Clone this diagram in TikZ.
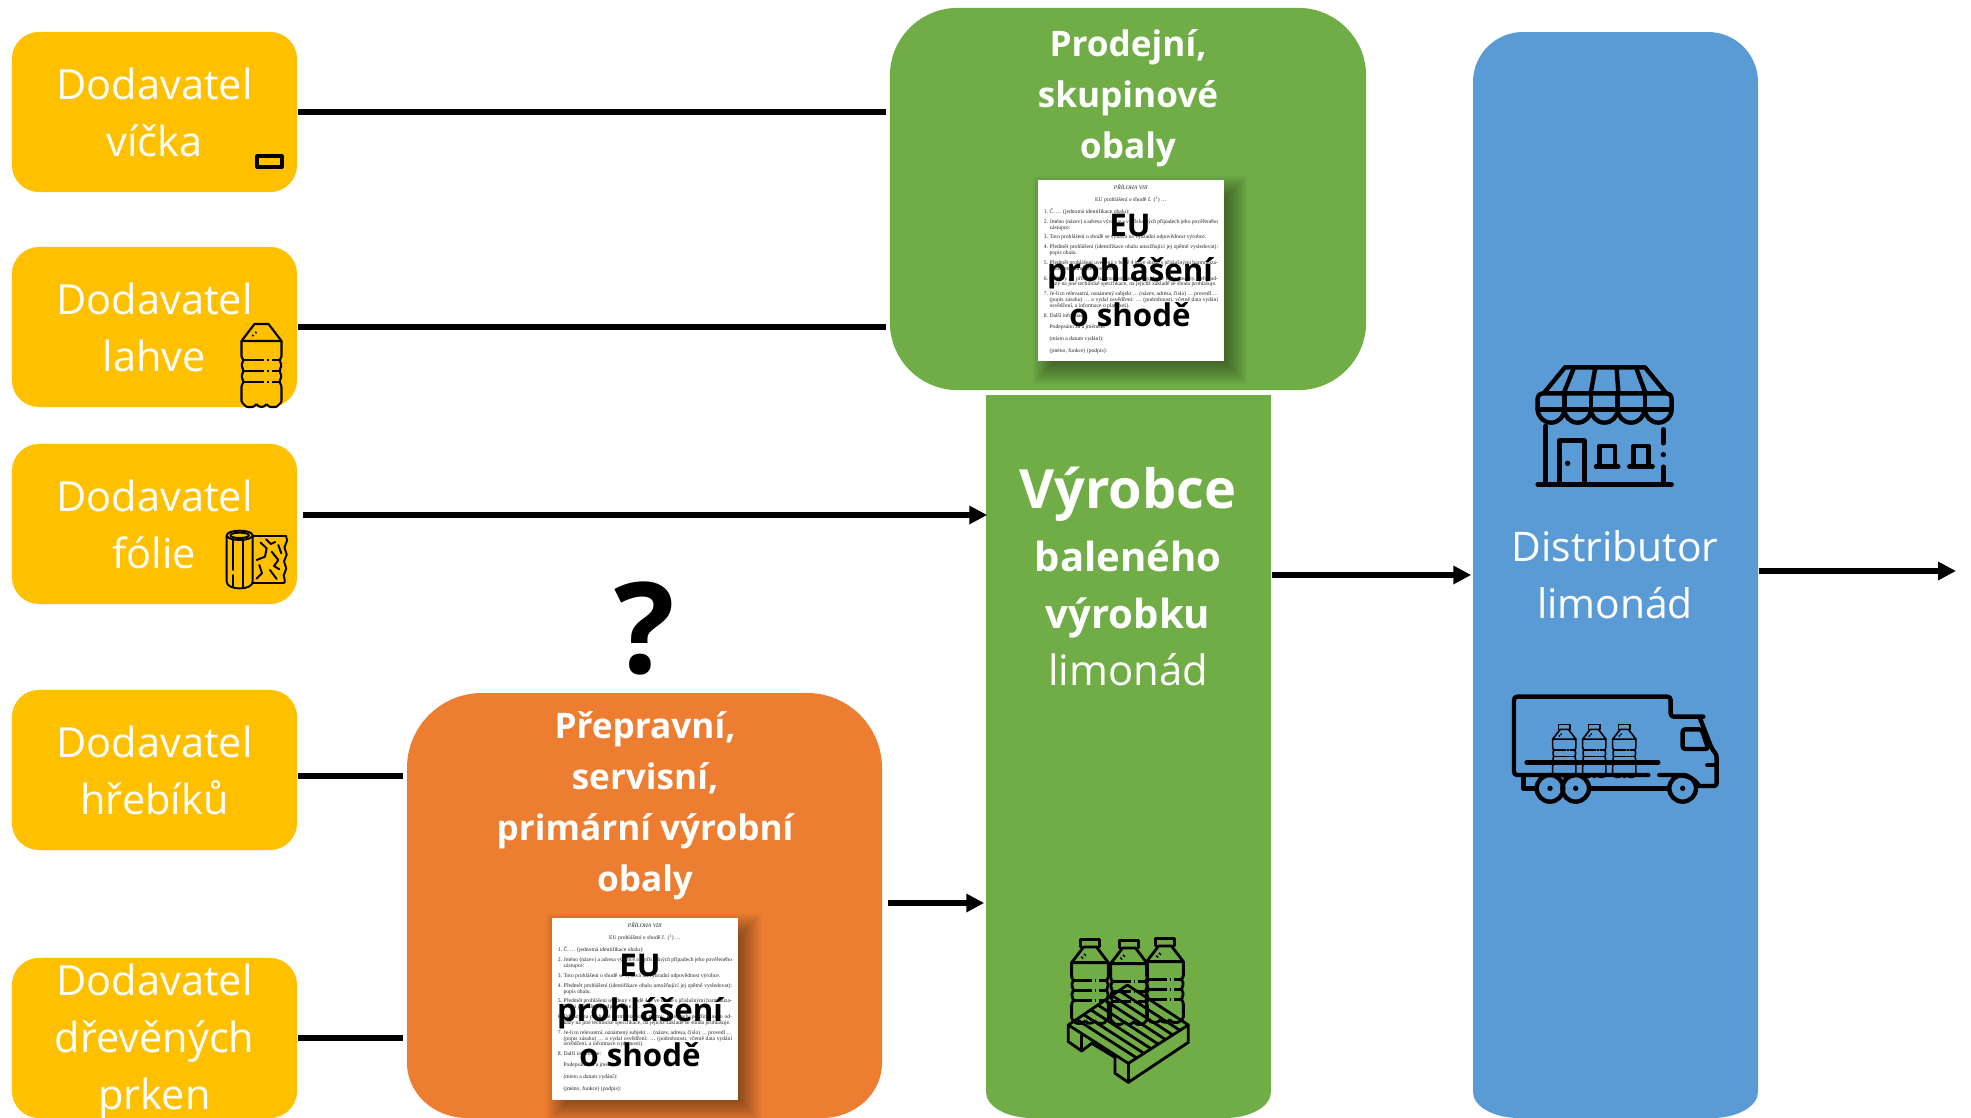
\documentclass[tikz,border=0pt]{standalone}
\usepackage{fontspec}
\setmainfont{Open Sans}
\newfontfamily\dokfont{Liberation Serif}
\usetikzlibrary{arrows.meta,calc,decorations.pathmorphing}

\definecolor{zluta}{HTML}{FFC000}
\definecolor{zelena}{HTML}{70AD47}
\definecolor{modra}{HTML}{5B9BD5}
\definecolor{oranzova}{HTML}{ED7D31}

\newcommand{\bod}[2]{\par\vspace{5.85pt}\noindent\hangindent=8pt\hangafter=1\makebox[8pt][l]{#1}#2\par}
% drobny text na listu
\newcommand{\prilohatext}{\scalebox{.2}{\parbox[t]{8.7cm}{\dokfont\fontsize{8}{8.2}\selectfont\tolerance=5000\parindent=0pt
  \centerline{\textit{PŘÍLOHA VIII}}\vspace{9pt}
  \centerline{EU prohlášení o shodě č. (\textsuperscript{1}) …}\vspace{2pt}
  \bod{1.}{Č. … (jednotná identifikace obalu):}
  \bod{2.}{Jméno (název) a adresa výrobce a v příslušných případech jeho pověřeného zástupce:}
  \bod{3.}{Toto prohlášení o shodě se vydává na výhradní odpovědnost výrobce.}
  \bod{4.}{Předmět prohlášení (identifikace obalu umožňující jej zpětně vysledovat): popis obalu.}
  \bod{5.}{Předmět prohlášení uvedený v bodě 4 je ve shodě s příslušnými harmonizačními právními předpisy Unie: …}
  \bod{6.}{Odkazy na příslušné harmonizované normy, které byly použity, nebo odkazy na jiné technické specifikace, na jejichž základě se shoda prohlašuje.}
  \bod{7.}{Je-li to relevantní, oznámený subjekt … (název, adresa, číslo) … provedl … (popis zásahu) … a vydal osvědčení: … (podrobnosti, včetně data vydání osvědčení, a informace o platnosti).}
  \bod{8.}{Další informace:}
  \vspace{2pt}\bod{}{Podepsáno za a jménem:}
  \vspace{3pt}\bod{}{(místo a datum vydání):}
  \vspace{3pt}\bod{}{(jméno, funkce) (podpis):}}}}

% list s prohlasenim: #1 jmeno, #2 stred x, #3 stred y, #4 #5 stred nadpisu
\newcommand{\dokument}[5]{
  \foreach \s in {0,...,13}
    \fill[black,opacity=.04] ({#2-93+9-14+2*\s},{#3-90+9-14+2*\s}) rectangle ({#2+93+9+14-2*\s},{#3+90+9+14-2*\s});
  \node[list] (#1) at (#2,#3) {};
  \node[drobny,anchor=north] (#1text) at (#2,#3-87) {\prilohatext};
  \node[nadpis] (#1nadpis) at (#4,#5) {EU\\prohlášení\\o shodě};
}

\tikzset{
  lahvicka/.pic={
    \draw (-7,0) -- (7,0) -- (20,17) -- (-20,17) -- cycle;
    \foreach \m in {-1,1}
      \draw[xscale=\m,rounded corners=.3pt] (20,17) -- (20,33) -- (18,36) -- (20,41) -- (18,47) -- (20,52) -- (18,58) -- (20,62) -- (20,78) -- (15,83) -- (8,83) -- (5,80);
    \draw (-5,80) .. controls (-3,84) and (3,84) .. (5,80);
    \foreach \y in {36,47,58}
      \draw (-18,\y) -- (2,\y) (5,\y) -- (7,\y) (10,\y) -- (18,\y);
    \draw (-6,9) -- (-5,8) (-9,12) -- (-8,11);
  },
  lahev/.pic={
    \pic[transform shape] {lahvicka};
    \draw (-10,-8) rectangle (10,0);
  }
}

\begin{document}
\begin{tikzpicture}[x=0.01cm,y=-0.01cm,line join=round]
    \tikzstyle{every node}+=[inner sep=0pt]
    \tikzstyle{dodavatel}=[fill=zluta,rounded corners=7.7pt,minimum width=2.85cm,minimum height=1.6cm,text=white,align=center,font=\fontsize{11.8}{16.2}\selectfont]
    \tikzstyle{skryty}=[minimum width=2.85cm]
    \tikzstyle{bily}=[text=white,align=center]
    \tikzstyle{obaltext}=[bily,font=\bfseries\fontsize{10}{14.5}\selectfont]
    \tikzstyle{list}=[fill=white,minimum width=1.86cm,minimum height=1.81cm]
    \tikzstyle{drobny}=[text=black!85]
    \tikzstyle{nadpis}=[align=center,text=black,font=\bfseries\fontsize{8.9}{12.8}\selectfont]
    \tikzstyle{linka}=[line width=1.7pt,black,shorten >=.03cm]
    \tikzstyle{sipka}=[linka,shorten >=.01cm,-{Triangle[length=5.1pt,width=5pt]}]
    \tikzstyle{ikona}=[line width=1.25pt,line cap=round,black]
    \tikzstyle{tenka}=[line width=.45pt,line cap=round,black]

    \useasboundingbox (0,0) rectangle (1971,1118);
    \clip (0,0) rectangle (1971,1118);

    % dodavatele
    \node[dodavatel] (vicka) at (154.5,112) {Dodavatel\\víčka};
    \node[dodavatel] (lahve) at (154.5,327) {Dodavatel\\lahve};
    \node[dodavatel] (folie) at (154.5,524) {Dodavatel\\fólie};
    \node[dodavatel] (hrebiky) at (154.5,770) {Dodavatel\\hřebíků};
    \node[dodavatel] (prkna) at (154.5,1038) {};
    \node[bily,font=\fontsize{11.8}{16.2}\selectfont] (prknatext) at (154.5,1042) {Dodavatel\\dřevěných\\prken};

    % obaly
    \node[fill=zelena,rounded corners=19.3pt,minimum width=4.76cm,minimum height=3.82cm] (prodejni) at (1128,199) {};
    \node[skryty,minimum width=4.75cm,minimum height=4.25cm] (prepravni) at (644.5,905.5) {};
    \fill[oranzova] (407,768) arc[start angle=180,end angle=270,radius=75] -- (807,693) arc[start angle=270,end angle=360,radius=75] -- (882,1063) arc[start angle=0,end angle=90,x radius=60,y radius=55] -- (467,1118) arc[start angle=90,end angle=180,x radius=60,y radius=55] -- cycle;

    % vyrobce a distributor
    \node[skryty,minimum height=7.23cm] (vyrobce) at (1128.5,756.5) {};
    \fill[zelena] (986,395) -- (1271,395) -- (1271,1092) arc[start angle=0,end angle=90,x radius=46,y radius=26] -- (1032,1118) arc[start angle=90,end angle=180,x radius=46,y radius=26] -- cycle;
    \node[skryty,minimum height=10.86cm] (distributor) at (1615.5,575) {};
    \fill[modra] (1473,82) arc[start angle=180,end angle=270,radius=50] -- (1708,32) arc[start angle=270,end angle=360,radius=50] -- (1758,1092) arc[start angle=0,end angle=90,x radius=46,y radius=26] -- (1519,1118) arc[start angle=90,end angle=180,x radius=46,y radius=26] -- cycle;

    % spojnice
    \draw[linka] (vicka.east) -- (prodejni.west |- vicka.east);
    \draw[linka] (lahve.east) -- (prodejni.west |- lahve.east);
    \draw[sipka,shorten <=.05cm,shorten >=-.02cm] (folie.east |- 0,515) -- (vyrobce.west |- 0,515);
    \draw[linka] (hrebiky.east |- 0,776) -- (prepravni.west |- 0,776);
    \draw[linka] (prkna.east) -- (prepravni.west |- prkna.east);
    \draw[sipka,shorten <=.05cm] (prepravni.east |- 0,903) -- (vyrobce.west |- 0,903);
    \draw[sipka] (vyrobce.east |- 0,575) -- (distributor.west |- 0,575);
    \coordinate (konec) at (1956,571);
    \draw[sipka,shorten >=0cm] (distributor.east |- konec) -- (konec);

    % popisky
    \node[obaltext] (prodejnitext) at (1128,98.5) {Prodejní,\\skupinové\\obaly};
    \node[obaltext] (prepravnitext) at (645,806) {Přepravní,\\servisní,\\primární výrobní\\obaly};
    \node[bily,font=\bfseries\fontsize{15.4}{20}\selectfont] (vyrobcetext) at (1128,494) {Výrobce};
    \node[bily,font=\fontsize{11.4}{16.2}\selectfont] (balenytext) at (1128,613) {\textbf{baleného}\\\textbf{výrobku}\\\fontsize{11.9}{16.2}\selectfont limonád};
    \node[bily,font=\fontsize{11.6}{16.2}\selectfont] (distributortext) at (1615,575) {Distributor\\limonád};
    \node[font=\bfseries\fontsize{36}{36}\selectfont] (otaznik) at (645,628) {?};

    % listy
    \dokument{prohlaseni}{1131}{270.5}{1130}{270}
    \dokument{prohlasenidva}{645}{1009}{640}{1010}

    % vicko
    \draw[line width=.9pt] (257,156) rectangle (282,167);

    % lahev
    \pic[line width=.6pt] at (261.5,324) {lahvicka};

    % folie
    \begin{scope}[shift={(210,510)},scale=1/3,line width=.55pt,line cap=round]
        \draw (89,76) circle[x radius=39,y radius=14];
        \draw (89,76) circle[x radius=28,y radius=8];
        \draw (50,76) -- (50,215) .. controls (50,242) and (128,242) .. (128,215) -- (128,76);
        \draw (68,92) -- (68,180) (68,195) -- (68,230) (100,92) -- (100,232);
        \draw (128,78) -- (228,78) (128,218) -- (222,218);
        \draw[decorate,decoration={snake,amplitude=.35pt,segment length=4pt}] (228,78) -- (224,218);
        \draw (168,88) -- (182,102) -- (196,96) (140,150) -- (165,140) -- (170,115) -- (152,98);
        \draw (205,105) -- (214,130) (185,125) -- (205,150) -- (192,168) -- (208,178);
        \draw (148,165) -- (156,190) -- (140,206) (180,180) -- (200,207);
    \end{scope}

    % obchod
    \begin{scope}[shift={(1510,350)},scale=1/3,ikona]
        \draw (105,125) -- (165,52) -- (405,52) -- (465,125);
        \draw (190,58) -- (163,125) (255,58) -- (243,125) (320,58) -- (325,125) (380,58) -- (405,125);
        \draw[rounded corners=1.4pt] (83,178) -- (83,130) -- (485,130) -- (485,178);
        \draw (83,178) -- (485,178);
        \foreach \x in {163,243,323,405}
            \draw (\x,130) -- (\x,178);
        \foreach \x in {83,163,243,323,405}
            \draw (\x,178) arc[start angle=180,end angle=0,radius=40];
        \draw (107,228) -- (107,403) (460,238) -- (460,280) (460,350) -- (460,403);
        \fill (460,314) circle[radius=8];
        \draw (83,403) -- (485,403);
        \draw (148,403) -- (148,272) -- (223,272) -- (223,403);
        \fill (173,340) circle[radius=8];
        \draw (268,350) -- (268,288) -- (315,288) -- (315,350) (258,350) -- (325,350);
        \draw (370,350) -- (370,288) -- (415,288) -- (415,350) (358,350) -- (428,350);
    \end{scope}

    % auto
    \begin{scope}[shift={(1500,680)},scale=1/3,ikona]
        \draw[rounded corners=.9pt] (445,285) -- (42,285) -- (42,50) -- (512,50) -- (512,110) -- (610,110);
        \draw[rounded corners=.75pt] (600,115) -- (635,205) -- (650,225) -- (650,318) -- (600,318);
        \draw[rounded corners=.75pt] (548,148) -- (605,148) -- (625,207) -- (548,207) -- cycle;
        \draw (622,255) -- (650,255);
        \draw (478,285) -- (525,285) .. controls (560,285) and (585,295) .. (597,318);
        \draw (70,292) -- (70,325) -- (105,325) (272,325) -- (505,325);
        \draw (80,247) -- (475,247);
        \foreach \x in {150,227,548} {
            \draw (\x,325) circle[radius=40];
            \fill (\x,325) circle[radius=8];
        }
    \end{scope}
    \foreach \x in {1564.3,1594.3,1624.3}
        \pic[scale=.58,tenka] at (\x,729.3) {lahev};

    % paleta
    \pic[scale=.92,line width=.8pt] at (1090,947) {lahev};
    \pic[scale=.92,line width=.8pt] at (1129,948) {lahev};
    \pic[scale=.92,line width=.8pt] at (1165,946) {lahev};
    \begin{scope}[shift={(1050,920)},scale=1/3,line width=.8pt,line cap=round]
        \draw (232,195) -- (55,315) -- (235,430) -- (415,315) -- cycle;
        \draw (55,315) -- (55,365) -- (95,393) -- (125,370) -- (195,412);
        \draw (95,393) -- (95,345);
        \draw (195,412) -- (195,460) -- (235,487) -- (415,367) -- (415,315);
        \draw (235,430) -- (235,487);
        \coordinate (pa) at (55,315);
        \coordinate (pb) at (232,195);
        \coordinate (pc) at (235,430);
        \coordinate (pd) at (415,315);
        \foreach \t in {.14,.26,.38,.5,.62,.74,.86}
            \draw ($(pa)!\t!(pb)$) -- ($(pc)!\t!(pd)$);
    \end{scope}
\end{tikzpicture}
\end{document}
